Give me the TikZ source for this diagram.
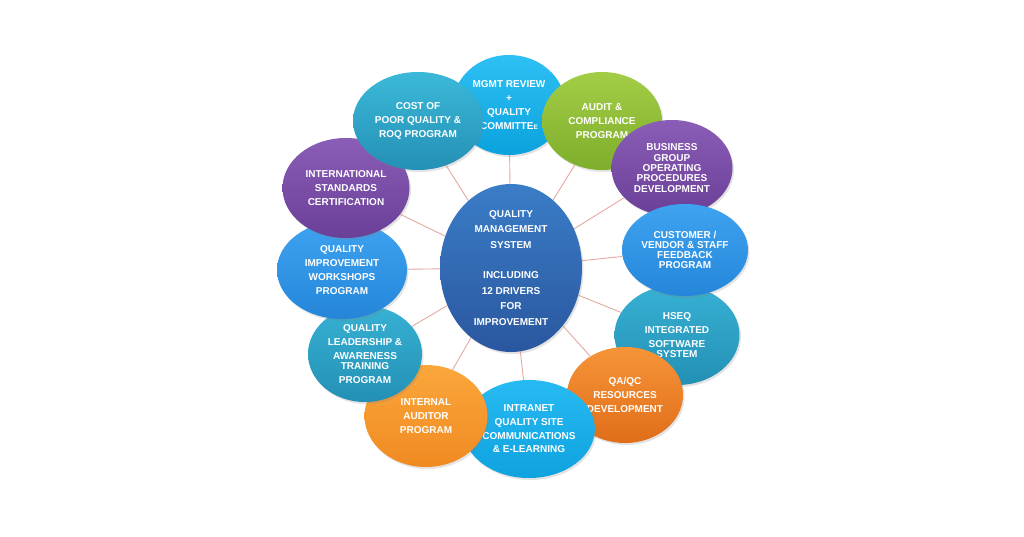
\documentclass[tikz,border=0pt]{standalone}
\usepackage{fontspec}
\setmainfont{Liberation Sans}
\usetikzlibrary{shapes.geometric,shadows,backgrounds}
\definecolor{linkred}{HTML}{E4A9A2}
\definecolor{mgmtT}{HTML}{2DC0F4}\definecolor{mgmtB}{HTML}{0BA2DD}
\definecolor{costT}{HTML}{3BB9D9}\definecolor{costB}{HTML}{2490B5}
\definecolor{audT}{HTML}{A3CD46}\definecolor{audB}{HTML}{7EAE2C}
\definecolor{purT}{HTML}{8A5DB6}\definecolor{purB}{HTML}{6A3F97}
\definecolor{bluT}{HTML}{3EA3F1}\definecolor{bluB}{HTML}{2586D9}
\definecolor{tealT}{HTML}{37B1D4}\definecolor{tealB}{HTML}{2390B4}
\definecolor{orT}{HTML}{FBA73C}\definecolor{orB}{HTML}{F08A21}
\definecolor{or2T}{HTML}{F69438}\definecolor{or2B}{HTML}{E06E19}
\definecolor{cyT}{HTML}{27BAF2}\definecolor{cyB}{HTML}{0EA2DF}
\definecolor{qmsT}{HTML}{3A7DC7}\definecolor{qmsB}{HTML}{2A579F}
\begin{document}
\begin{tikzpicture}[x=1pt,y=-1pt,
  bub/.style={ellipse, inner sep=0pt, draw=none, text=white,
    font=\bfseries\fontsize{10}{14}\selectfont, align=center,
    drop shadow={shadow xshift=1.5pt, shadow yshift=-2pt, opacity=0.22}},
  sz/.style 2 args={minimum width=#1pt, minimum height=#2pt},
  shade2/.style 2 args={top color=#1, bottom color=#2},
  link/.style={draw=linkred, line width=0.9pt}]
\useasboundingbox (0,0) rectangle (1024,536);
% centre
\node[bub, sz={142}{168}, shade2={qmsT}{qmsB}, font=\bfseries\fontsize{10}{15.5}\selectfont] (qms) at (511,268)
  {QUALITY\\MANAGEMENT\\SYSTEM\\[15pt]INCLUDING\\12 DRIVERS\\FOR\\IMPROVEMENT};
% outer bubbles, bottom to top
\node[bub, sz={125}{100}, shade2={tealT}{tealB}] (hseq) at (677,335)
  {HSEQ\\INTEGRATED\\SOFTWARE\\[-4pt]SYSTEM};
\node[bub, sz={116}{96}, shade2={or2T}{or2B}] (qaqc) at (625,395)
  {QA/QC\\RESOURCES\\DEVELOPMENT};
\node[bub, sz={128}{98}, shade2={cyT}{cyB}] (intra) at (529,429)
  {INTRANET\\QUALITY SITE\\COMMUNICATIONS\\[-1pt]\& E-LEARNING};
\node[bub, sz={123}{102}, shade2={orT}{orB}] (inaud) at (426,416)
  {INTERNAL\\AUDITOR\\PROGRAM};
\node[bub, sz={114}{96}, shade2={tealT}{tealB}] (lead) at (365,354)
  {QUALITY\\LEADERSHIP \&\\AWARENESS\\[-4pt]TRAINING\\PROGRAM};
\node[bub, sz={130}{98}, shade2={bluT}{bluB}] (impr) at (342,270)
  {QUALITY\\IMPROVEMENT\\WORKSHOPS\\PROGRAM};
\node[bub, sz={127}{100}, shade2={purT}{purB}] (intl) at (346,188)
  {INTERNATIONAL\\STANDARDS\\CERTIFICATION};
\node[bub, sz={112}{100}, shade2={mgmtT}{mgmtB}] (mgmt) at (509,105)
  {MGMT REVIEW\\+\\QUALITY\\COMMITTE{\fontsize{6.5}{7}\selectfont E}};
\node[bub, sz={130}{98}, shade2={costT}{costB}] (cost) at (418,121)
  {COST OF\\POOR QUALITY \&\\ROQ PROGRAM};
\node[bub, sz={120}{98}, shade2={audT}{audB}] (audit) at (602,121)
  {AUDIT \&\\COMPLIANCE\\PROGRAM};
\node[bub, sz={121}{96}, shade2={purT}{purB}, font=\bfseries\fontsize{10}{10.4}\selectfont] (busi) at (672,168)
  {BUSINESS\\GROUP\\OPERATING\\PROCEDURES\\DEVELOPMENT};
\node[bub, sz={126}{92}, shade2={bluT}{bluB}, font=\bfseries\fontsize{10}{10}\selectfont] (cust) at (685,250)
  {CUSTOMER /\\VENDOR \& STAFF\\FEEDBACK\\PROGRAM};
% connectors behind everything
\begin{scope}[on background layer]
  \fill[white] (0,0) rectangle (1024,536);
  \foreach \n in {mgmt,cost,audit,busi,cust,hseq,qaqc,intra,inaud,lead,impr,intl}
    \draw[link] (qms) -- (\n);
\end{scope}
\end{tikzpicture}
\end{document}
